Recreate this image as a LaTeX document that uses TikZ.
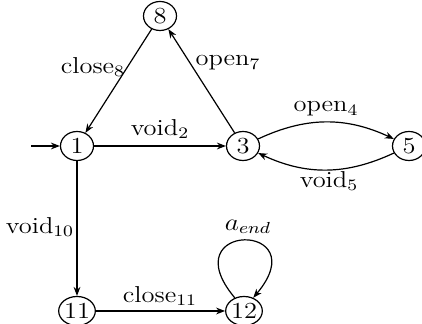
\documentclass[tikz,border=0pt]{standalone}
\usepackage{graphicx}
\usepackage{tikz}
\usetikzlibrary{arrows.meta,shapes.geometric}
% text set slightly wide, to suit the oval states
\newcommand{\widetxt}[1]{\scalebox{1.15}[1]{#1}}
\begin{document}
\begin{tikzpicture}[x=0.5pt,y=-0.5pt,
  state/.style={ellipse,draw,line width=0.6pt,minimum width=16.5pt,minimum height=14.5pt,inner sep=0pt,font=\fontsize{11.5}{13}\selectfont},
  lbl/.style={inner sep=0pt,font=\fontsize{11.5}{13}\selectfont},
  edge/.style={line width=0.6pt,-{Stealth[length=4.5pt,width=3.4pt]}}]
\useasboundingbox (0,0) rectangle (422,324);
% states
\node[state] (n8)  at (160,16)  {\widetxt{8}};
\node[state] (n1)  at (77,146)  {\widetxt{1}};
\node[state] (n3)  at (243,146) {\widetxt{3}};
\node[state] (n5)  at (409,146) {\widetxt{5}};
\node[state] (n11) at (77,311)  {\widetxt{11}};
\node[state] (n12) at (244,311) {\widetxt{12}};
\coordinate (init) at (31,146);
% transition labels
\node[lbl] (l8)  at (93,67)   {\widetxt{close$_{8}$}};
\node[lbl] (l7)  at (228,63)  {\widetxt{open$_{7}$}};
\node[lbl] (l2)  at (160,129) {\widetxt{void$_{2}$}};
\node[lbl] (l4)  at (326,109) {\widetxt{open$_{4}$}};
\node[lbl] (l5)  at (329,181) {\widetxt{void$_{5}$}};
\node[lbl] (l10) at (40,227)  {\widetxt{void$_{10}$}};
\node[lbl] (l11) at (160,296) {\widetxt{close$_{11}$}};
\node[lbl] (le)  at (248,227) {\widetxt{$a_{end}$}};
% transitions
\draw[edge] (init) -- (n1);
\draw[edge] (n8) -- (n1);
\draw[edge] (n3) -- (n8);
\draw[edge] (n1) -- (n3);
\draw[edge] (n3) to[bend left=25] (n5);
\draw[edge] (n5) to[bend left=25] (n3);
\draw[edge] (n1) -- (n11);
\draw[edge] (n11) -- (n12);
\draw[edge] (n12.125) .. controls +(130:50pt) and +(50:50pt) .. (n12.55);
\end{tikzpicture}
\end{document}
